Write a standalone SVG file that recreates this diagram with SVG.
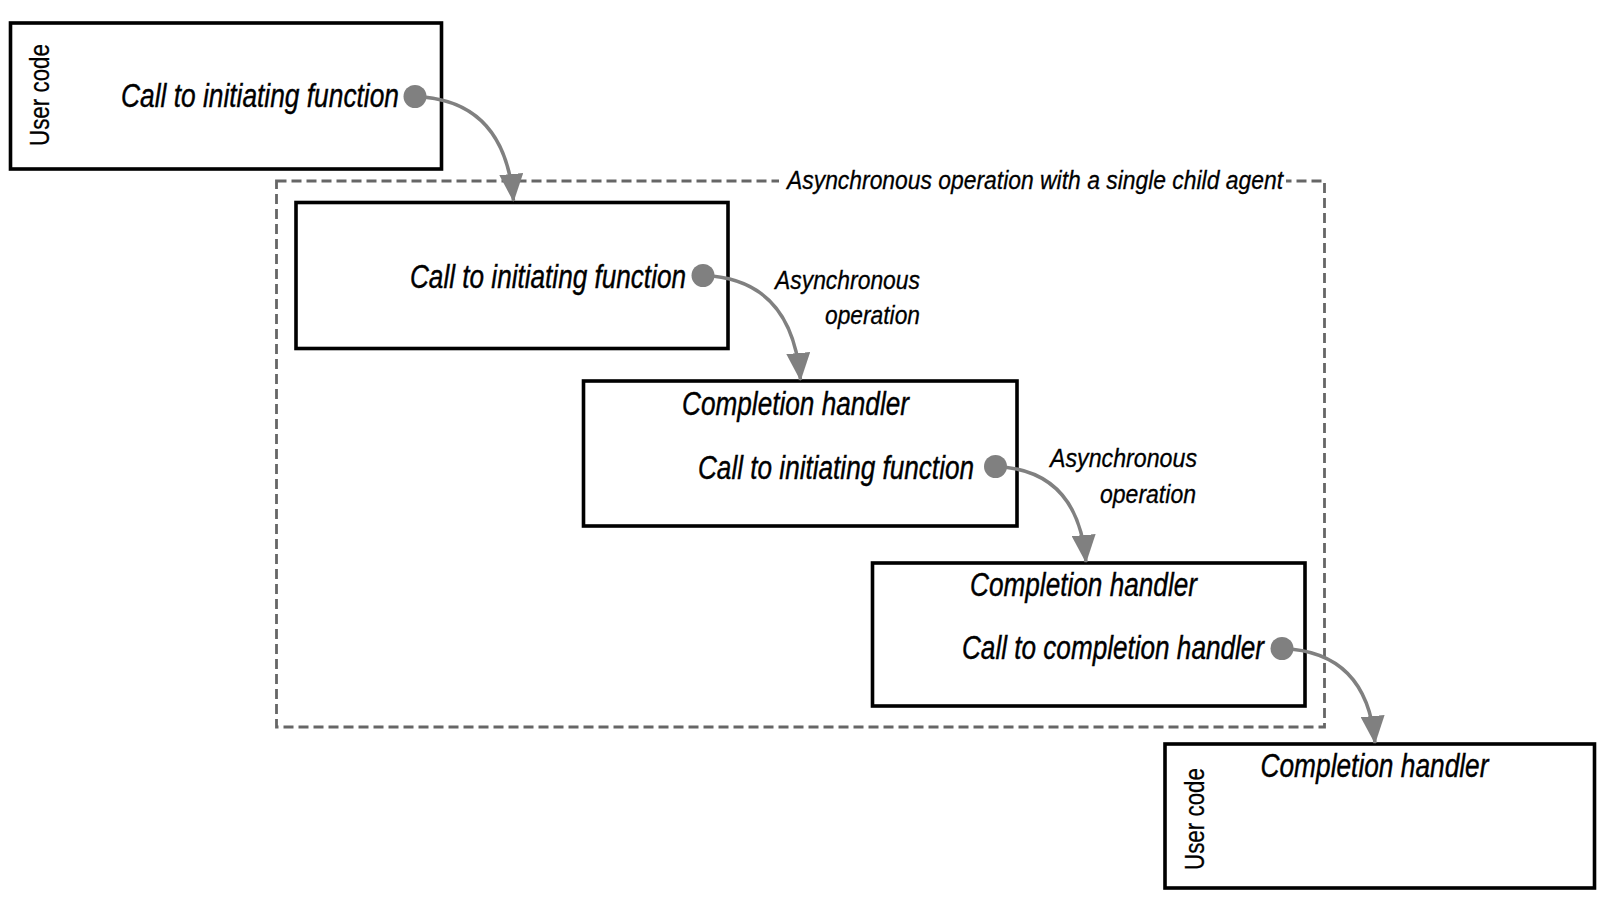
<svg xmlns="http://www.w3.org/2000/svg" width="1611" height="901" viewBox="0 0 1611 901">
<style>
.box{fill:#fff;stroke:#000;stroke-width:3.6}
.t{font-family:"Liberation Sans",Arial,sans-serif;font-style:italic;font-size:33px;fill:#000;stroke:#000;stroke-width:0.4}
.s{font-family:"Liberation Sans",Arial,sans-serif;font-style:italic;font-size:26.5px;fill:#000;stroke:#000;stroke-width:0.3}
.u{font-family:"Liberation Sans",Arial,sans-serif;font-size:28px;fill:#000;stroke:#000;stroke-width:0.3}
.dot{fill:#808080}
.arr{fill:none;stroke:#808080;stroke-width:3.5;marker-end:url(#ah)}
.dash{fill:none;stroke:#666;stroke-width:2.8;stroke-dasharray:10 5}
</style>
<defs>
<marker id="ah" markerUnits="userSpaceOnUse" markerWidth="28" markerHeight="24" viewBox="0 0 28 24" refX="27" refY="12" orient="auto">
<path d="M0,0 L28,12 L0,24 z" fill="#808080"/>
</marker>
</defs>
<rect width="1611" height="901" fill="#fff"/>
<g id="group-async">
<rect class="dash" x="276.5" y="181" width="1048" height="546"/>
<rect x="779" y="168" width="507" height="26" fill="#fff"/>
<text class="s" x="787" y="188.5" textLength="496" lengthAdjust="spacingAndGlyphs">Asynchronous operation with a single child agent</text>
</g>
<g id="node-user1">
<rect class="box" x="10.5" y="23" width="431" height="146"/>
<text class="u" transform="translate(48.5,146) rotate(-90)" textLength="102" lengthAdjust="spacingAndGlyphs">User code</text>
<text class="t" x="399" y="107" text-anchor="end" textLength="278" lengthAdjust="spacingAndGlyphs">Call to initiating function</text>
</g>
<g id="node-op1">
<rect class="box" x="296" y="202.5" width="432" height="146"/>
<text class="t" x="686" y="287.5" text-anchor="end" textLength="276" lengthAdjust="spacingAndGlyphs">Call to initiating function</text>
</g>
<g id="node-op2">
<rect class="box" x="583.5" y="381" width="433.5" height="145"/>
<text class="t" x="682" y="415" textLength="227" lengthAdjust="spacingAndGlyphs">Completion handler</text>
<text class="t" x="974" y="478.5" text-anchor="end" textLength="276" lengthAdjust="spacingAndGlyphs">Call to initiating function</text>
</g>
<g id="node-op3">
<rect class="box" x="872.5" y="563" width="432.5" height="143"/>
<text class="t" x="970" y="596" textLength="227" lengthAdjust="spacingAndGlyphs">Completion handler</text>
<text class="t" x="1264" y="658.5" text-anchor="end" textLength="302" lengthAdjust="spacingAndGlyphs">Call to completion handler</text>
</g>
<g id="node-user2">
<rect class="box" x="1165" y="744" width="429.5" height="144"/>
<text class="t" x="1260.5" y="777" textLength="228" lengthAdjust="spacingAndGlyphs">Completion handler</text>
<text class="u" transform="translate(1203.5,870) rotate(-90)" textLength="102" lengthAdjust="spacingAndGlyphs">User code</text>
</g>
<g id="connectors">
<path class="arr" d="M415,96.5 Q505,99.5 513.5,201"/>
<path class="arr" d="M703,275.5 Q792,278.5 800.5,380"/>
<path class="arr" d="M995.5,466.5 Q1078,469.5 1086,562"/>
<path class="arr" d="M1282,648.5 Q1367,651.5 1375,743"/>
<circle class="dot" cx="415" cy="96.5" r="11.5"/>
<circle class="dot" cx="703" cy="275.5" r="11.5"/>
<circle class="dot" cx="995.5" cy="466.5" r="11.5"/>
<circle class="dot" cx="1282" cy="648.5" r="11.5"/>
<text class="s" x="920" y="288.5" text-anchor="end" textLength="145" lengthAdjust="spacingAndGlyphs">Asynchronous</text>
<text class="s" x="920" y="323.5" text-anchor="end" textLength="95" lengthAdjust="spacingAndGlyphs">operation</text>
<text class="s" x="1197" y="466.5" text-anchor="end" textLength="147" lengthAdjust="spacingAndGlyphs">Asynchronous</text>
<text class="s" x="1196" y="503" text-anchor="end" textLength="96" lengthAdjust="spacingAndGlyphs">operation</text>
</g>
</svg>
